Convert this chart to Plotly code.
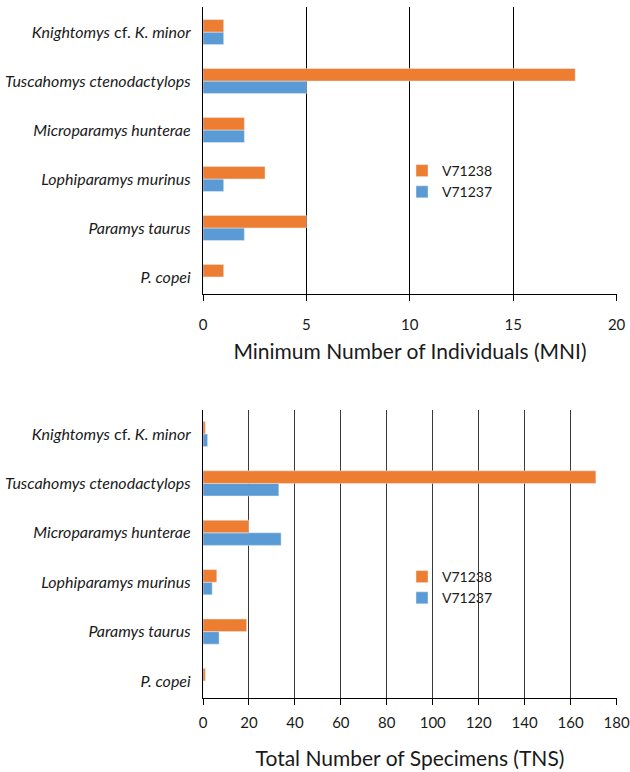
import plotly.graph_objects as go

categories = ["P. copei", "Paramys taurus", "Lophiparamys murinus",
              "Microparamys hunterae", "Tuscahomys ctenodactylops",
              "Knightomys cf. K. minor"]
cat_labels = ["<i>P. copei</i>", "<i>Paramys taurus</i>", "<i>Lophiparamys murinus</i>",
              "<i>Microparamys hunterae</i>", "<i>Tuscahomys ctenodactylops</i>",
              "<i>Knightomys</i> cf. <i>K. minor</i>"]

mni_v71238 = [1, 5, 3, 2, 18, 1]
mni_v71237 = [0, 2, 1, 2, 5, 1]
tns_v71238 = [1, 19, 6, 20, 171, 1]
tns_v71237 = [0, 7, 4, 34, 33, 2]

mni_ticks = [0, 5, 10, 15, 20]
tns_ticks = [0, 20, 40, 60, 80, 100, 120, 140, 160, 180]

ORANGE = "#ED7D31"
BLUE = "#5B9BD5"
FONT = "Lato"
TXT = "#1a1a1a"

fig = go.Figure()
# top chart
fig.add_trace(go.Bar(y=cat_labels, x=mni_v71237, orientation="h", name="V71237",
                     marker_color=BLUE, xaxis="x", yaxis="y", legend="legend"))
fig.add_trace(go.Bar(y=cat_labels, x=mni_v71238, orientation="h", name="V71238",
                     marker_color=ORANGE, xaxis="x", yaxis="y", legend="legend"))
# bottom chart
fig.add_trace(go.Bar(y=cat_labels, x=tns_v71237, orientation="h", name="V71237",
                     marker_color=BLUE, xaxis="x2", yaxis="y2", legend="legend2"))
fig.add_trace(go.Bar(y=cat_labels, x=tns_v71238, orientation="h", name="V71238",
                     marker_color=ORANGE, xaxis="x2", yaxis="y2", legend="legend2"))

xd = [203 / 630, 617 / 630]
common_x = dict(showgrid=True, gridwidth=1.2, showline=True,
                linecolor="black", linewidth=1.2, ticks="outside", ticklen=6,
                tickcolor="black", tickwidth=1.2, zeroline=False, automargin=False,
                tickfont=dict(family=FONT, size=15, color=TXT),
                ticklabeloverflow="allow", domain=xd, fixedrange=True)
common_y = dict(showline=True, linecolor="black", linewidth=1.2, ticks="",
                tickfont=dict(family=FONT, size=16, color=TXT), showgrid=False,
                categoryorder="array", categoryarray=cat_labels, automargin=False,
                ticklabelstandoff=8, fixedrange=True)

fig.update_layout(
    width=630, height=772,
    margin=dict(l=0, r=0, t=0, b=0),
    paper_bgcolor="white", plot_bgcolor="white",
    barmode="group", bargap=0.49, bargroupgap=0,
    font=dict(family=FONT, color=TXT),
    xaxis=dict(common_x, range=[0, 20.02], tickvals=mni_ticks, anchor="y",
               gridcolor="black", ticklabelstandoff=11,
               title=dict(text="Minimum Number of Individuals (MNI)",
                          font=dict(family=FONT, size=21, color=TXT), standoff=12)),
    yaxis=dict(common_y, domain=[1 - 294 / 772, 1 - 7 / 772], anchor="x",
               range=[-0.348, 5.512]),
    xaxis2=dict(common_x, range=[0, 180.2], tickvals=tns_ticks, anchor="y2",
                gridcolor="#3a3a3a", ticklabelstandoff=5,
                title=dict(text="Total Number of Specimens (TNS)",
                           font=dict(family=FONT, size=21, color=TXT), standoff=21)),
    yaxis2=dict(common_y, domain=[1 - 698 / 772, 1 - 410 / 772], anchor="x2",
                range=[-0.344, 5.486]),
    legend=dict(x=402 / 630, y=1 - 155 / 772, xanchor="left", yanchor="top",
                traceorder="reversed", bgcolor="rgba(0,0,0,0)",
                font=dict(family=FONT, size=14, color=TXT), itemwidth=30,
                tracegroupgap=0),
    legend2=dict(x=402 / 630, y=1 - 561 / 772, xanchor="left", yanchor="top",
                 traceorder="reversed", bgcolor="rgba(0,0,0,0)",
                 font=dict(family=FONT, size=14, color=TXT), itemwidth=30,
                 tracegroupgap=0),
)

fig.write_html("out.html", config={"displayModeBar": False},
               post_script="document.body.style.margin='0';")
